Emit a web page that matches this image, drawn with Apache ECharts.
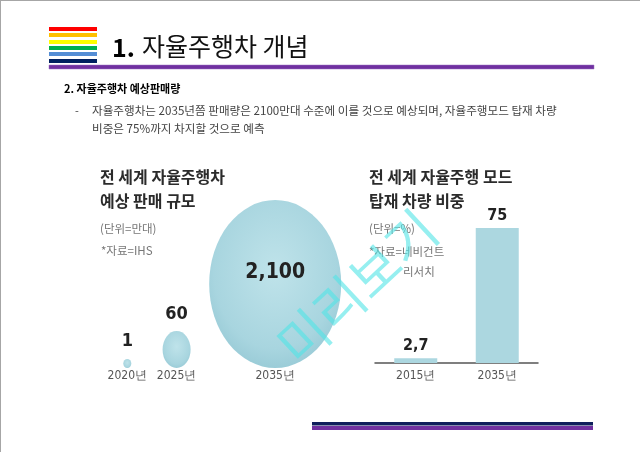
<!DOCTYPE html>
<html><head><meta charset="utf-8">
<script src="https://cdn.jsdelivr.net/npm/echarts@6/dist/echarts.min.js"></script>
<style>html,body{margin:0;padding:0;background:#fff}#c{width:640px;height:452px}</style>
</head><body><div id="c"></div>
<script>
// ---- data ----
const bubbleYears = [2020, 2025, 2035];
const bubbleValues = [1, 60, 2100];
const barCategories = ['2015년', '2035년'];
const barValues = [2.7, 75];

const numFont = '"DejaVu Sans Condensed","Liberation Sans Narrow","Liberation Sans",sans-serif';
const krFont = '"Noto Sans CJK KR","Noto Sans",sans-serif';
const fmt = v => String(v).replace('.', ',').replace(/\B(?=(\d{3})+(?!\d))/g, ',');

const bubbleFill = {type:'radial', x:0.5, y:0.42, r:0.62, colorStops:[
  {offset:0, color:'#bfe3ea'}, {offset:0.75, color:'#a8d5df'}, {offset:1, color:'#96c9d5'}]};
const bubbleLook = [
  {size:[8,9], label:{position:'top', distance:9, fontSize:18}},
  {size:[28,37], label:{position:'top', distance:8, fontSize:18}},
  {size:[132,168], label:{position:'inside', offset:[0,-11], fontSize:21}}
];

const chart = echarts.init(document.getElementById('c'));

function txt(text, x, y, size, color, weight, align) {
  return {type:'text', z:50, style:{text, x, y, fill:color, font:(weight||'normal')+' '+size+'px '+krFont,
    align: align||'left', verticalAlign:'middle'}};
}
const stripeColors = ['#ff0000','#ffc000','#ffff00','#00b050','#558ed5','#002060'];
const stripeY = [27,33,40,46,52,59];
const graphics = [
  {type:'line', shape:{x1:0,y1:0.5,x2:640,y2:0.5}, style:{stroke:'#a6a6a6', lineWidth:1}},
  {type:'line', shape:{x1:0.5,y1:0,x2:0.5,y2:452}, style:{stroke:'#a6a6a6', lineWidth:1}},
  ...stripeColors.map((c,i)=>({type:'rect', shape:{x:49,y:stripeY[i],width:48,height:4}, style:{fill:c}})),
  {type:'rect', shape:{x:49,y:65,width:545,height:4}, style:{fill:'#7030a0', stroke:'#9a70c0', lineWidth:0.5}},
  txt('1.', 112, 47, 25, '#000', 'bold'),
  txt('자율주행차 개념', 142, 46, 25, '#111', 'normal'),
  txt('2. 자율주행차 예상판매량', 64, 89, 11, '#000', 'bold'),
  txt('-', 75, 111, 11, '#444'),
  txt('자율주행차는 2035년쯤 판매량은 2100만대 수준에 이를 것으로 예상되며, 자율주행모드 탑재 차량', 92, 111, 11.6, '#444'),
  txt('비중은 75%까지 차지할 것으로 예측', 92, 129, 11.6, '#444'),
  txt('전 세계 자율주행차', 100, 177, 16, '#2b2b2b', 'bold'),
  txt('예상 판매 규모', 100, 201, 16, '#2b2b2b', 'bold'),
  txt('(단위=만대)', 100, 229, 11.5, '#777'),
  txt('*자료=IHS', 101, 251, 11.5, '#777'),
  txt('전 세계 자율주행 모드', 369, 177, 16, '#2b2b2b', 'bold'),
  txt('탑재 차량 비중', 369, 201, 16, '#2b2b2b', 'bold'),
  txt('(단위=%)', 369, 229, 11.5, '#777'),
  txt('*자료=네비건트', 369, 252, 11.5, '#777'),
  txt('리서치', 403, 272, 11.5, '#777'),
  {type:'rect', shape:{x:312,y:422,width:281,height:3.5}, style:{fill:'#0f1f5c'}},
  {type:'rect', shape:{x:312,y:426,width:281,height:4}, style:{fill:'#7030a0'}},
  {type:'text', z:100, x:357, y:287, rotation:0.75,
    style:{text:'미리보기', x:0, y:0, align:'center', verticalAlign:'middle',
      font:'normal 53px '+krFont, fill:'rgba(80,228,230,0.6)'}}
];

chart.setOption({
  animation:false,
  backgroundColor:'#fff',
  graphic: graphics,
  grid:[
    {left:78, width:246.5, top:150, bottom:84},
    {left:375, right:102, top:183, bottom:89}
  ],
  xAxis:[
    {type:'value', gridIndex:0, min:2015, max:2040,
      axisLine:{show:false}, axisTick:{show:false}, splitLine:{show:false},
      axisLabel:{customValues:bubbleYears, formatter:v=>v+'년', margin:2, fontSize:12,
        color:'#555', fontFamily:numFont}},
    {type:'category', gridIndex:1, data:barCategories,
      axisLine:{show:true, lineStyle:{color:'#555', width:1.5}}, axisTick:{show:false},
      axisLabel:{margin:7, fontSize:12, color:'#555', fontFamily:numFont}}
  ],
  yAxis:[
    {type:'value', gridIndex:0, min:0, max:1, show:false},
    {type:'value', gridIndex:1, min:0, max:100, show:false}
  ],
  series:[
    {type:'scatter', xAxisIndex:0, yAxisIndex:0, symbol:'circle',
      symbolOffset:[0,'-50%'],
      data: bubbleYears.map((y,i)=>({value:[y,0,bubbleValues[i]],
        symbolSize: bubbleLook[i].size,
        label:Object.assign({show:true, formatter:fmt(bubbleValues[i]), color:'#222',
          fontWeight:'bold', fontFamily:numFont}, bubbleLook[i].label)})),
      itemStyle:{color:bubbleFill, opacity:1}},
    {type:'bar', xAxisIndex:1, yAxisIndex:1, data:barValues, barWidth:43,
      itemStyle:{color:'#acd7e0'},
      label:{show:true, position:'top', distance:4, formatter:p=>fmt(p.value), fontSize:16,
        color:'#222', fontWeight:'bold', fontFamily:numFont}}
  ]
});
</script></body></html>
